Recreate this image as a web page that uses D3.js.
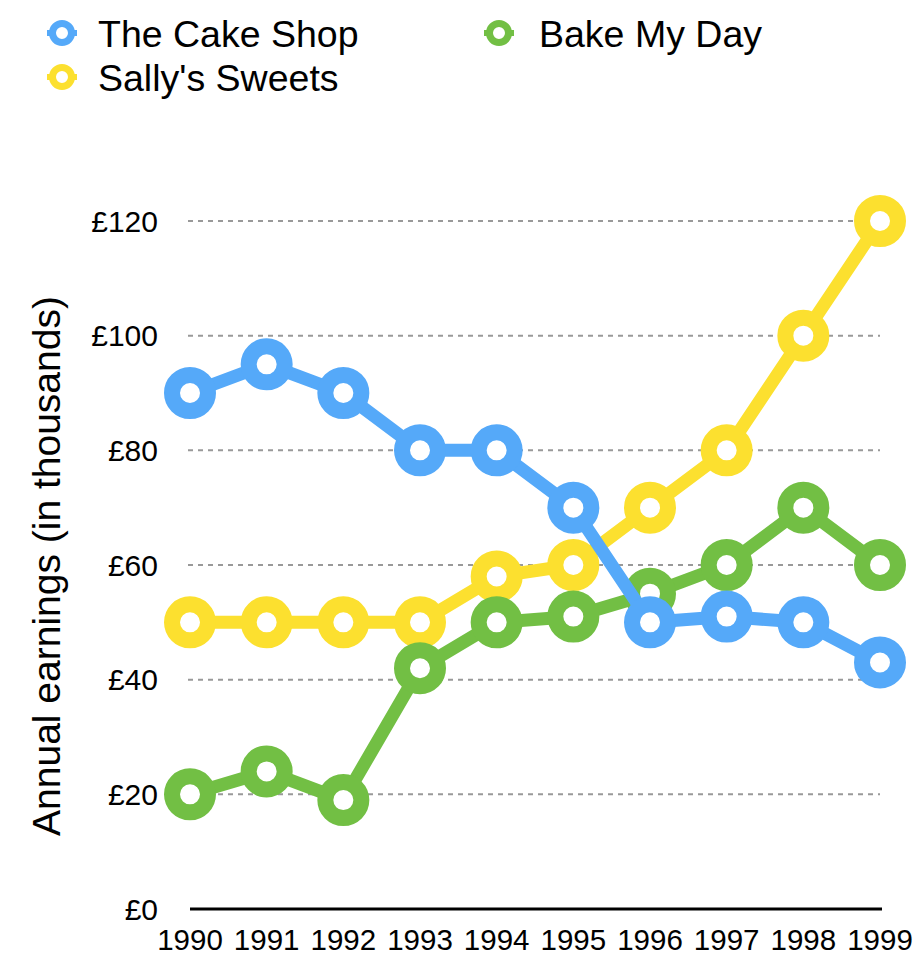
<!DOCTYPE html>
<html>
<head>
<meta charset="utf-8">
<script src="https://cdn.jsdelivr.net/npm/d3@7"></script>
<style>
  body { margin: 0; background: #fff; }
  svg text { font-family: "Liberation Sans", Arial, Helvetica, sans-serif; fill: #000; }
</style>
</head>
<body>
<div id="chart"></div>
<script>
//Chart values
var years = [1990, 1991, 1992, 1993, 1994, 1995, 1996, 1997, 1998, 1999];
var cakeShop = [90, 95, 90, 80, 80, 70, 50, 51, 50, 43];
var sallysSweets = [50, 50, 50, 50, 58, 60, 70, 80, 100, 120];
var bakeMyDay = [20, 24, 19, 42, 50, 51, 55, 60, 70, 60];
var yTicks = [0, 20, 40, 60, 80, 100, 120];

var seriesNames = ['The Cake Shop', "Sally's Sweets", 'Bake My Day'];
var seriesColors = ['#55a9f9', '#fce02f', '#72bf44'];
var seriesValues = [cakeShop, sallysSweets, bakeMyDay];

//Draw order: yellow first, then green, blue on top
var drawOrder = [1, 2, 0];

var width = 917, height = 957;

var svg = d3.select('#chart').append('svg')
	.attr('width', width)
	.attr('height', height);

var xScale = d3.scalePoint()
	.domain(years)
	.range([190, 880]);

var yScale = d3.scaleLinear()
	.domain([0, 120])
	.range([909, 221]);

//Grid lines
svg.selectAll('line.grid')
	.data(yTicks.filter(function(d) { return d > 0; }))
	.enter()
	.append('line')
	.attr('class', 'grid')
	.attr('x1', 188)
	.attr('x2', 880)
	.attr('y1', function(d) { return yScale(d); })
	.attr('y2', function(d) { return yScale(d); })
	.attr('stroke', '#999')
	.attr('stroke-width', 2)
	.attr('stroke-dasharray', '5,5');

//Base axis line
svg.append('line')
	.attr('x1', 190)
	.attr('x2', 882)
	.attr('y1', yScale(0))
	.attr('y2', yScale(0))
	.attr('stroke', '#000')
	.attr('stroke-width', 3);

//Y tick labels
svg.selectAll('text.ytick')
	.data(yTicks)
	.enter()
	.append('text')
	.attr('class', 'ytick')
	.attr('x', 158)
	.attr('y', function(d) { return yScale(d); })
	.attr('dy', '0.36em')
	.attr('text-anchor', 'end')
	.style('font-size', '30px')
	.text(function(d) { return '£' + d; });

//X tick labels
svg.selectAll('text.xtick')
	.data(years)
	.enter()
	.append('text')
	.attr('class', 'xtick')
	.attr('x', function(d) { return xScale(d); })
	.attr('y', 950)
	.attr('text-anchor', 'middle')
	.style('font-size', '29.5px')
	.text(function(d) { return d; });

//Y axis title
svg.append('text')
	.attr('transform', 'translate(60,566) rotate(-90)')
	.attr('text-anchor', 'middle')
	.style('font-size', '39px')
	.text('Annual earnings (in thousands)');

//Lines and markers
var line = d3.line()
	.x(function(d, i) { return xScale(years[i]); })
	.y(function(d) { return yScale(d); });

drawOrder.forEach(function(s) {
	var g = svg.append('g');

	g.append('path')
		.datum(seriesValues[s])
		.attr('d', line)
		.attr('fill', 'none')
		.attr('stroke', seriesColors[s])
		.attr('stroke-width', 13)
		.attr('stroke-linejoin', 'round');

	g.selectAll('circle')
		.data(seriesValues[s])
		.enter()
		.append('circle')
		.attr('cx', function(d, i) { return xScale(years[i]); })
		.attr('cy', function(d) { return yScale(d); })
		.attr('r', 18)
		.attr('fill', '#fff')
		.attr('stroke', seriesColors[s])
		.attr('stroke-width', 16);
});

//Legend
var legendPos = [[62, 33], [62, 77], [499, 33]];
var legendTextX = [98, 98, 539];

seriesNames.forEach(function(name, s) {
	var lx = legendPos[s][0], ly = legendPos[s][1];
	var lg = svg.append('g').attr('transform', 'translate(' + lx + ',' + ly + ')');

	lg.append('line')
		.attr('x1', -15)
		.attr('x2', 15)
		.attr('stroke', seriesColors[s])
		.attr('stroke-width', 6);

	lg.append('circle')
		.attr('r', 9.5)
		.attr('fill', '#fff')
		.attr('stroke', seriesColors[s])
		.attr('stroke-width', 7);

	lg.append('text')
		.attr('x', legendTextX[s] - lx)
		.attr('y', 14)
		.style('font-size', '37.5px')
		.text(name);
});
</script>
</body>
</html>
